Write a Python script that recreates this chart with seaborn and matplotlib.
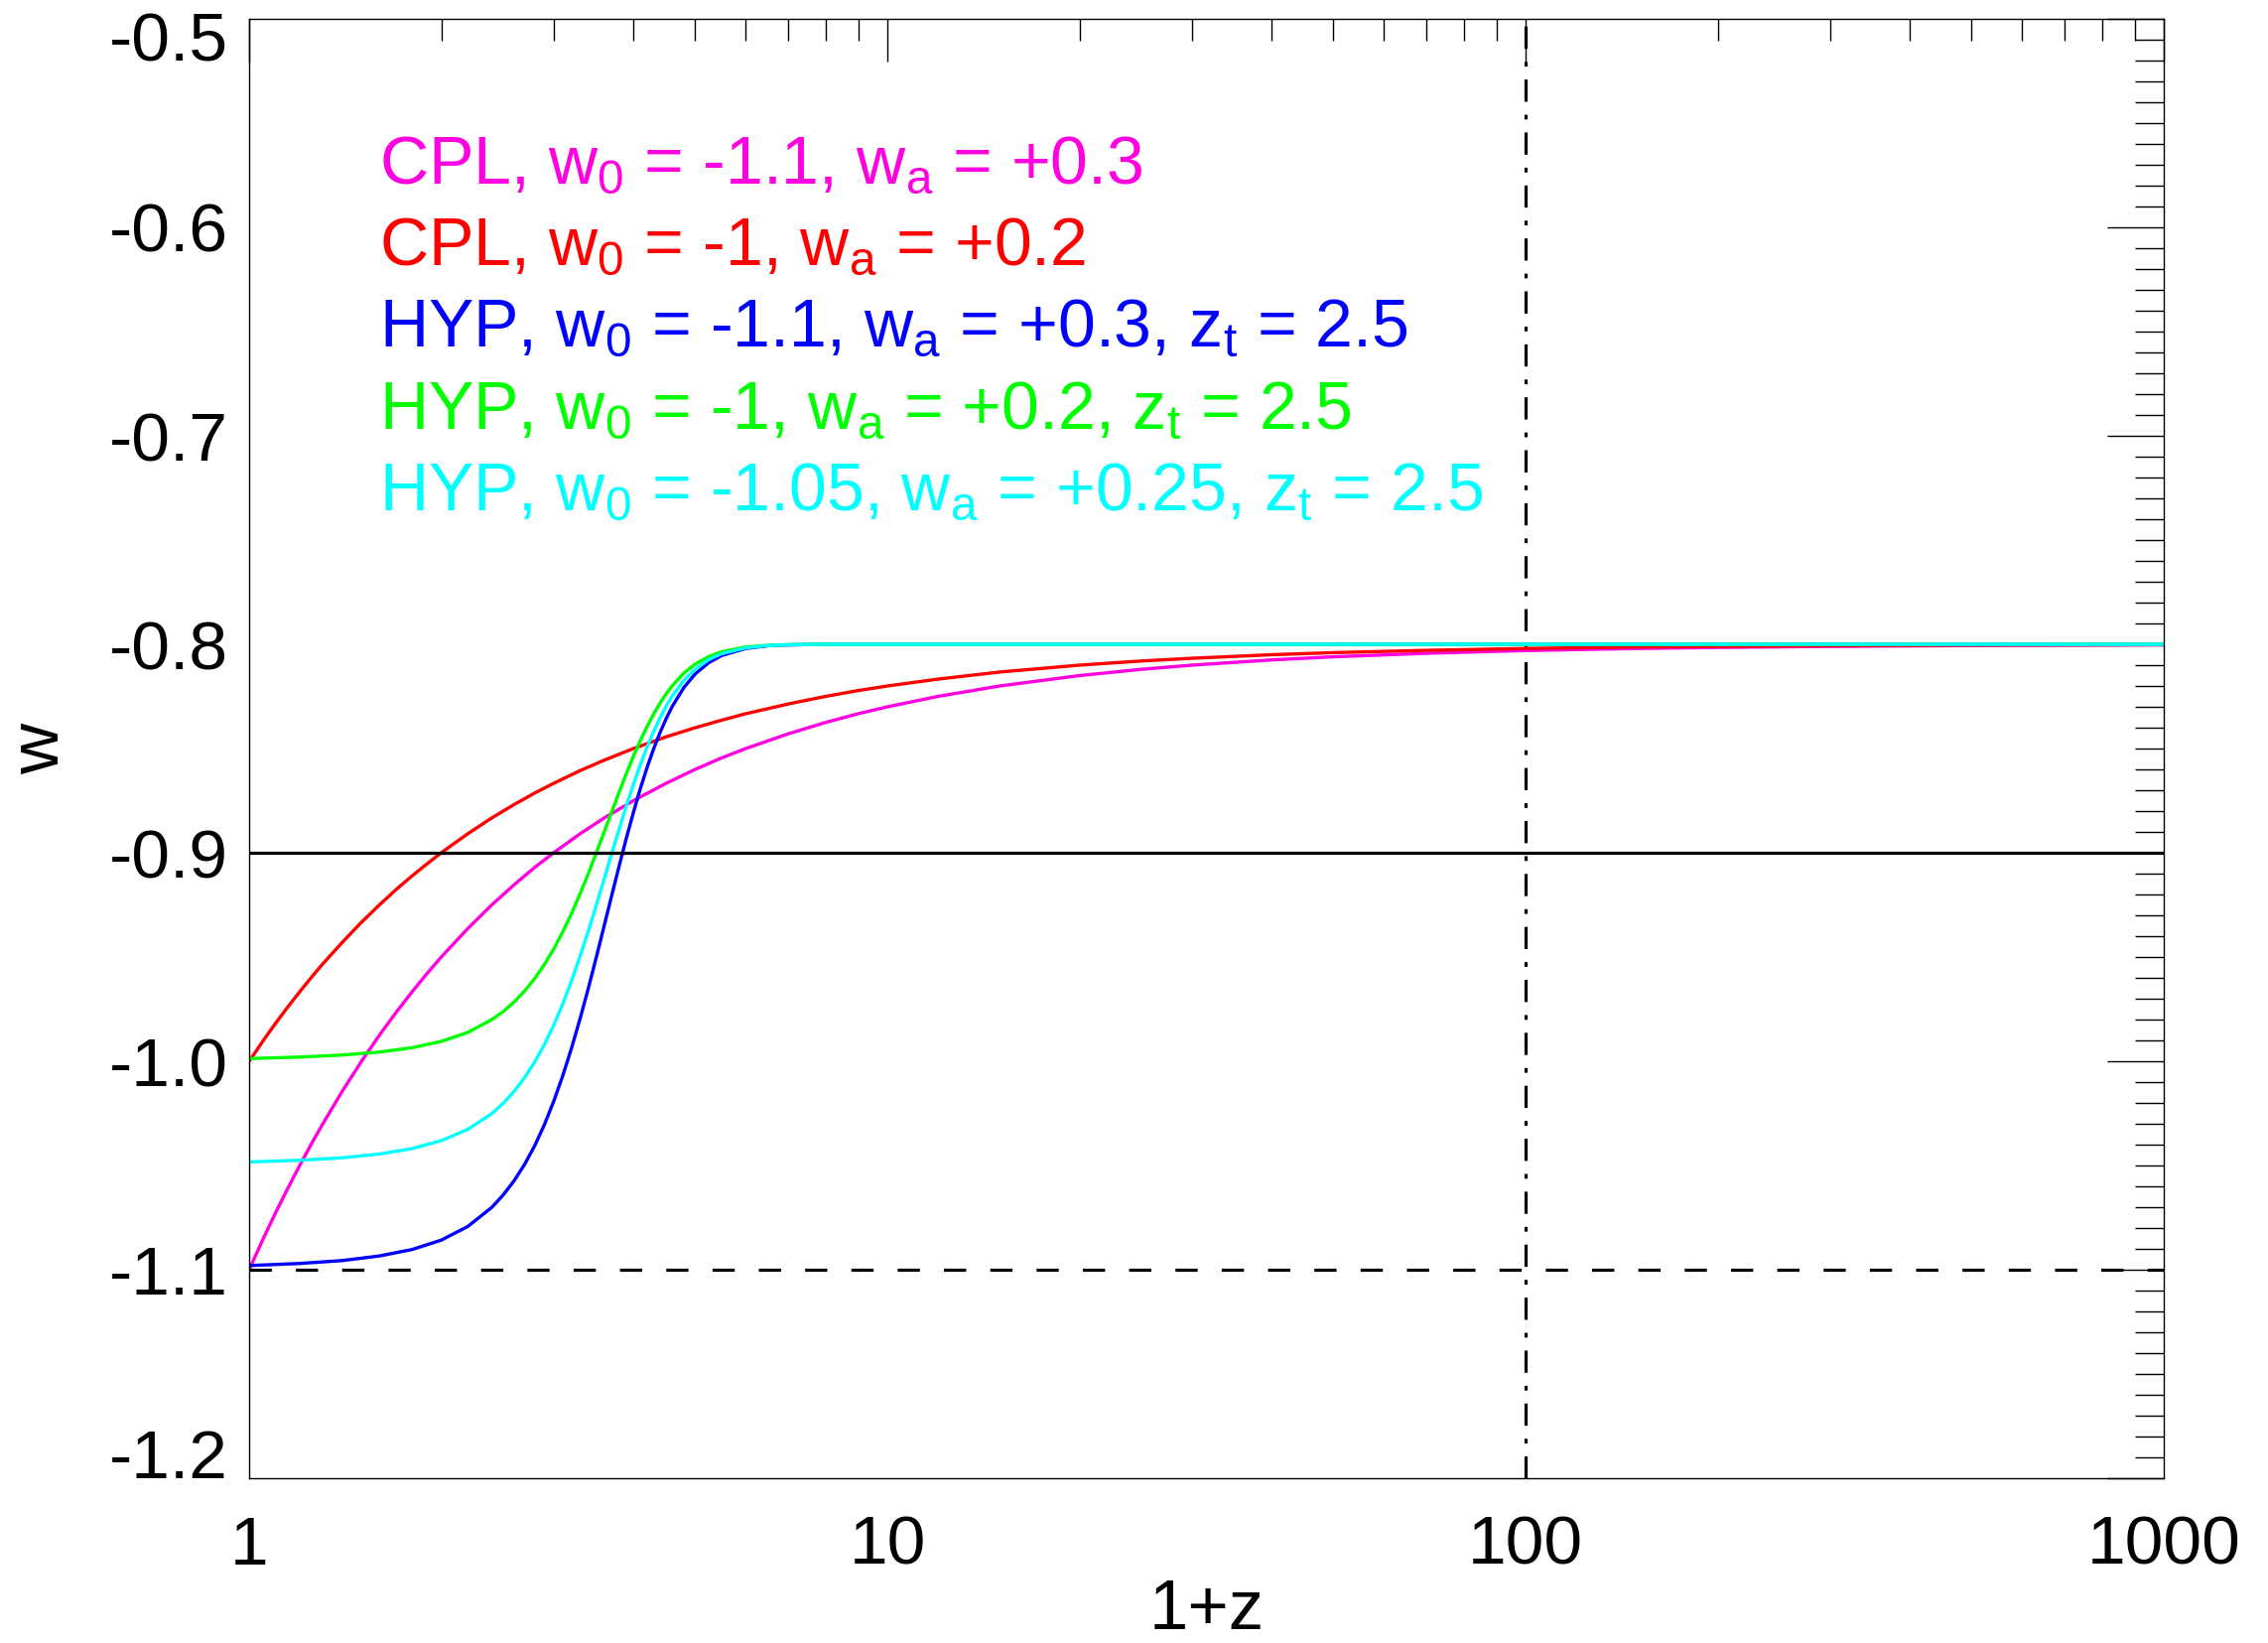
import matplotlib
matplotlib.use("Agg")
import matplotlib.pyplot as plt
from matplotlib.ticker import FixedLocator, MultipleLocator, NullFormatter
from matplotlib.transforms import ScaledTranslation
import pandas as pd
import seaborn as sns

# ---------------------------------------------------------------- data
# CPL parametrisation, sampled in 1+z
cpl_x = [1, 1.05, 1.1, 1.15, 1.2, 1.25, 1.3, 1.4, 1.5, 1.6, 1.7, 1.8, 1.9,
         2, 2.2, 2.4, 2.6, 2.8, 3, 3.3, 3.6, 4, 4.5, 5, 5.5, 6, 7, 8, 9, 10,
         12, 15, 20, 25, 30, 40, 50, 70, 100, 150, 200, 300, 500, 1000]
cpl_a_w = [-1.1000, -1.0857, -1.0727, -1.0609, -1.0500, -1.0400, -1.0308,
           -1.0143, -1.0000, -0.9875, -0.9765, -0.9667, -0.9579, -0.9500,
           -0.9364, -0.9250, -0.9154, -0.9071, -0.9000, -0.8909, -0.8833,
           -0.8750, -0.8667, -0.8600, -0.8545, -0.8500, -0.8429, -0.8375,
           -0.8333, -0.8300, -0.8250, -0.8200, -0.8150, -0.8120, -0.8100,
           -0.8075, -0.8060, -0.8043, -0.8030, -0.8020, -0.8015, -0.8010,
           -0.8006, -0.8003]
cpl_b_w = [-1.0000, -0.9905, -0.9818, -0.9739, -0.9667, -0.9600, -0.9538,
           -0.9429, -0.9333, -0.9250, -0.9176, -0.9111, -0.9053, -0.9000,
           -0.8909, -0.8833, -0.8769, -0.8714, -0.8667, -0.8606, -0.8556,
           -0.8500, -0.8444, -0.8400, -0.8364, -0.8333, -0.8286, -0.8250,
           -0.8222, -0.8200, -0.8167, -0.8133, -0.8100, -0.8080, -0.8067,
           -0.8050, -0.8040, -0.8029, -0.8020, -0.8013, -0.8010, -0.8007,
           -0.8004, -0.8002]

# hyperbolic-tangent transition models, sampled in 1+z
hyp_x = [1, 1.2, 1.4, 1.6, 1.8, 2.0, 2.2, 2.4, 2.5, 2.6, 2.7, 2.8, 2.9, 3.0,
         3.1, 3.2, 3.3, 3.4, 3.5, 3.6, 3.7, 3.8, 3.9, 4.0, 4.1, 4.2, 4.3,
         4.4, 4.5, 4.6, 4.8, 5.0, 5.25, 5.5, 6, 6.5, 7, 8, 10, 100, 1000]
hyp_a_w = [-1.0980, -1.0970, -1.0956, -1.0934, -1.0903, -1.0858, -1.0793,
           -1.0701, -1.0642, -1.0574, -1.0496, -1.0407, -1.0306, -1.0193,
           -1.0070, -0.9937, -0.9796, -0.9650, -0.9500, -0.9350, -0.9204,
           -0.9063, -0.8930, -0.8807, -0.8694, -0.8593, -0.8504, -0.8426,
           -0.8358, -0.8299, -0.8207, -0.8142, -0.8088, -0.8054, -0.8020,
           -0.8007, -0.8003, -0.8000, -0.8000, -0.8000, -0.8000]
hyp_b_w = [-0.9987, -0.9980, -0.9970, -0.9956, -0.9935, -0.9905, -0.9862,
           -0.9800, -0.9762, -0.9716, -0.9664, -0.9604, -0.9537, -0.9462,
           -0.9380, -0.9291, -0.9197, -0.9100, -0.9000, -0.8900, -0.8803,
           -0.8709, -0.8620, -0.8538, -0.8463, -0.8396, -0.8336, -0.8284,
           -0.8238, -0.8200, -0.8138, -0.8095, -0.8059, -0.8036, -0.8013,
           -0.8005, -0.8002, -0.8000, -0.8000, -0.8000, -0.8000]
hyp_c_w = [-1.0483, -1.0475, -1.0463, -1.0445, -1.0419, -1.0381, -1.0327,
           -1.0251, -1.0202, -1.0145, -1.0080, -1.0005, -0.9921, -0.9828,
           -0.9725, -0.9614, -0.9497, -0.9375, -0.9250, -0.9125, -0.9003,
           -0.8886, -0.8775, -0.8672, -0.8579, -0.8495, -0.8420, -0.8355,
           -0.8298, -0.8249, -0.8173, -0.8119, -0.8073, -0.8045, -0.8017,
           -0.8006, -0.8002, -0.8000, -0.8000, -0.8000, -0.8000]

model_labels = [
    r"CPL, w$_0$ = -1.1, w$_a$ = +0.3",
    r"CPL, w$_0$ = -1, w$_a$ = +0.2",
    r"HYP, w$_0$ = -1.1, w$_a$ = +0.3, z$_t$ = 2.5",
    r"HYP, w$_0$ = -1, w$_a$ = +0.2, z$_t$ = 2.5",
    r"HYP, w$_0$ = -1.05, w$_a$ = +0.25, z$_t$ = 2.5",
]
model_colors = ["#FF00E0", "#FF0000", "#0000FF", "#00FF00", "#00FFFF"]

solid_level = -0.9
dashed_level = -1.1
vertical_mark = 100

x_ticks = [1, 10, 100, 1000]
x_tick_labels = ["1", "10", "100", "1000"]
x_minor = [2, 3, 4, 5, 6, 7, 8, 9, 20, 30, 40, 50, 60, 70, 80, 90,
           200, 300, 400, 500, 600, 700, 800, 900]
y_ticks = [-1.2, -1.1, -1.0, -0.9, -0.8, -0.7, -0.6, -0.5]
y_tick_labels = ["-1.2", "-1.1", "-1.0", "-0.9", "-0.8", "-0.7", "-0.6", "-0.5"]

# ---------------------------------------------------------------- table
series = [(cpl_x, cpl_a_w), (cpl_x, cpl_b_w), (hyp_x, hyp_a_w),
          (hyp_x, hyp_b_w), (hyp_x, hyp_c_w)]
frames = []
for label, (xs, ws) in zip(model_labels, series):
    frames.append(pd.DataFrame({"one_plus_z": xs, "w": ws, "model": label}))
df = pd.concat(frames, ignore_index=True)

# ---------------------------------------------------------------- style
sns.set_style("white")
plt.rcParams.update({
    "font.family": ["Liberation Sans", "DejaVu Sans"],
    "mathtext.fontset": "custom",
    "mathtext.rm": "Liberation Sans",
    "mathtext.it": "Liberation Sans",
    "mathtext.bf": "Liberation Sans",
    "mathtext.default": "regular",
    "text.color": "black",
    "axes.labelcolor": "black",
    "xtick.color": "black",
    "ytick.color": "black",
    "axes.edgecolor": "black",
})

fig = plt.figure(figsize=(22.85, 16.55), dpi=100)
ax = fig.add_axes([0.10985, 0.10030, 0.84420, 0.88822])
ax.set_xscale("log")

ax.axvline(vertical_mark, color="black", lw=2.3,
           linestyle=(0, (7.0, 4.1, 1.5, 4.1)), zorder=1)

sns.lineplot(data=df, x="one_plus_z", y="w", hue="model",
             hue_order=model_labels, palette=dict(zip(model_labels, model_colors)),
             estimator=None, sort=False, legend=False, linewidth=2.4,
             ax=ax, zorder=2)

ax.axhline(solid_level, color="black", lw=2.3, zorder=3)
ax.axhline(dashed_level, color="black", lw=2.3,
           linestyle=(0, (7.0, 7.6)), zorder=3)

ax.set_xlim(1, 1000)
ax.set_ylim(-1.2, -0.5)

# ---------------------------------------------------------------- axes
ax.xaxis.set_major_locator(FixedLocator(x_ticks))
ax.xaxis.set_minor_locator(FixedLocator(x_minor))
ax.xaxis.set_minor_formatter(NullFormatter())
ax.set_xticks(x_ticks, labels=x_tick_labels)
ax.set_yticks(y_ticks, labels=y_tick_labels)
ax.yaxis.set_minor_locator(MultipleLocator(0.01))

ax.tick_params(axis="both", which="both", direction="in", top=True,
               right=True, color="black", width=1.0, labelcolor="black")
ax.tick_params(axis="y", which="major", length=41, pad=15, labelsize=50)
ax.tick_params(axis="y", which="minor", length=21)
ax.tick_params(axis="x", which="major", length=31, pad=26.5, labelsize=50)
ax.tick_params(axis="x", which="minor", length=16)

for side in ax.spines.values():
    side.set_color("black")
    side.set_linewidth(1.0)

# end labels are kept inside the frame
for lbl in ax.get_yticklabels():
    if lbl.get_text() == "-0.5":
        lbl.set_va("top")
        lbl.set_transform(lbl.get_transform()
                          + ScaledTranslation(0, 0.07, fig.dpi_scale_trans))
    elif lbl.get_text() == "-1.2":
        lbl.set_va("baseline")

ax.set_xlabel("1+z", fontsize=51)
ax.xaxis.set_label_coords(0.5, -0.1035)
ax.xaxis.label.set_va("baseline")
ax.set_ylabel("w", fontsize=51)
ax.yaxis.set_label_coords(-0.0995, 0.5)
ax.yaxis.label.set_va("baseline")

# model annotations
baselines = [0.8871, 0.8313, 0.7755, 0.7190, 0.6633]
for label, color, yb in zip(model_labels, model_colors, baselines):
    ax.text(0.0680, yb, label, color=color, fontsize=49,
            transform=ax.transAxes, ha="left", va="baseline")

fig.savefig("out.png", dpi=100)
